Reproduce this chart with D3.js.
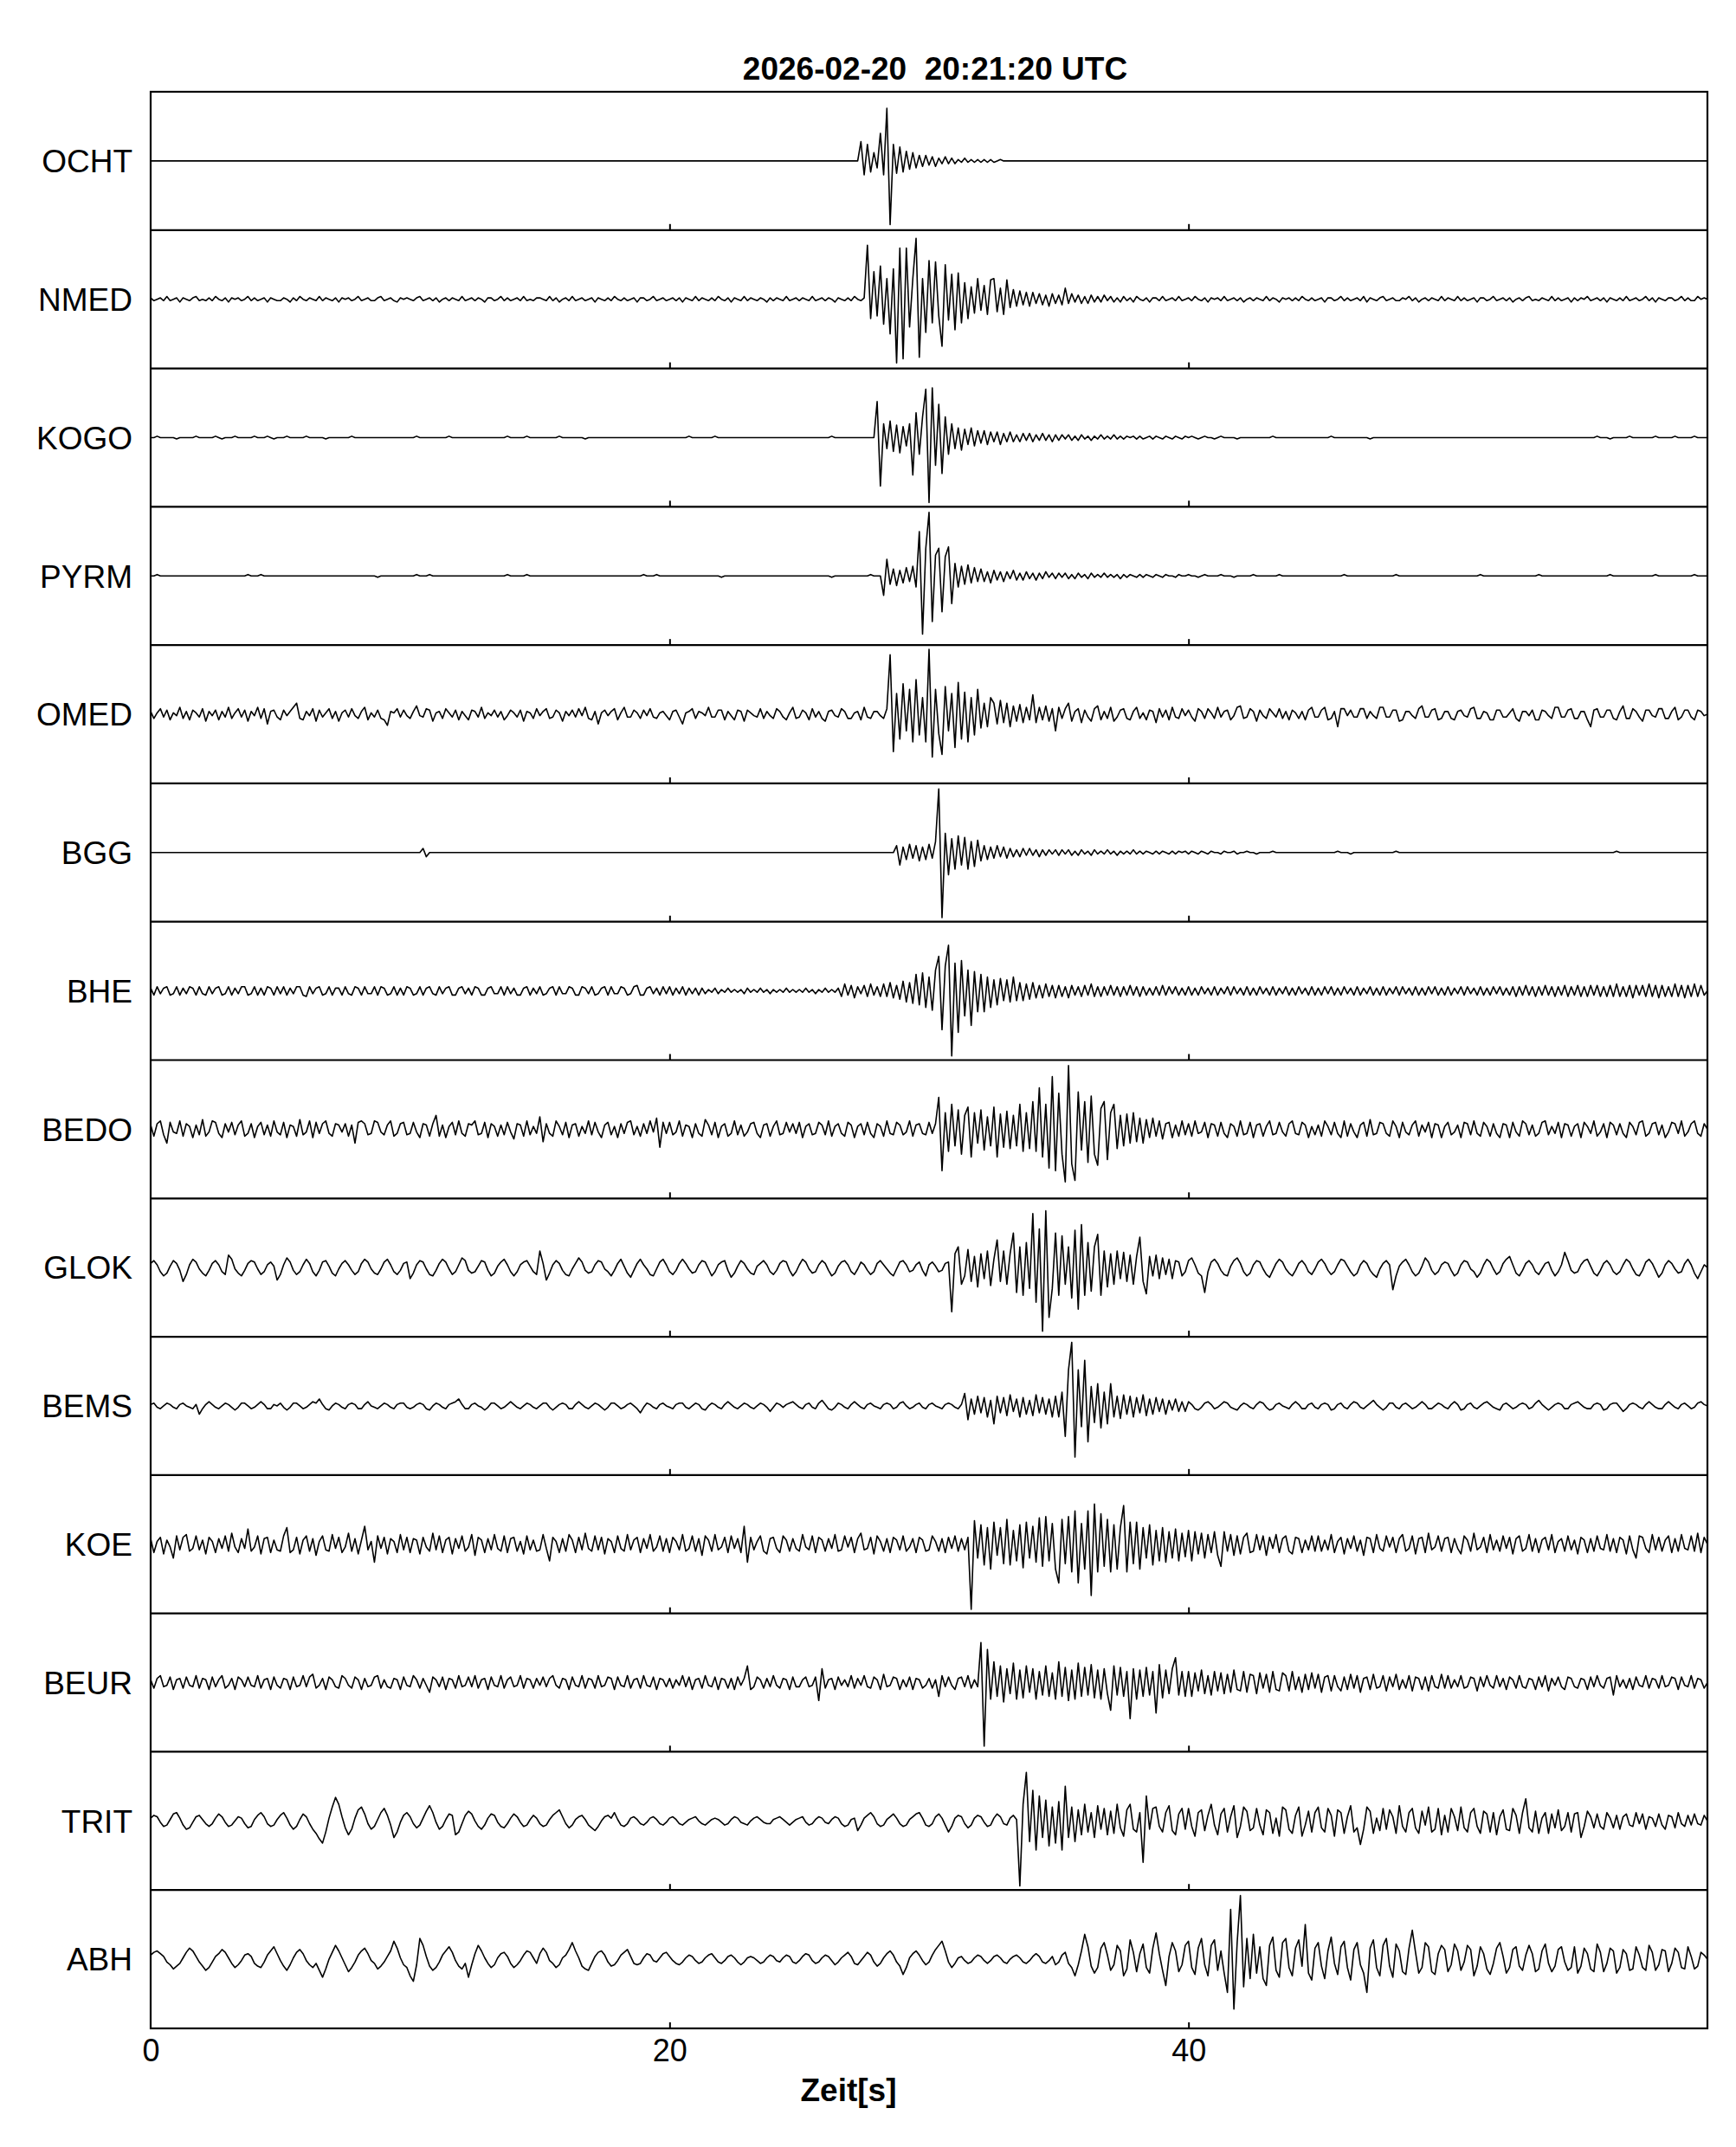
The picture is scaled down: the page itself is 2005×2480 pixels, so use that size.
<!DOCTYPE html>
<html>
<head>
<meta charset="utf-8">
<script src="https://cdn.jsdelivr.net/npm/d3@7"></script>
<style>
  body { margin: 0; background: #fff; }
  text { font-family: "Liberation Sans", Arial, Helvetica, sans-serif; fill: #000; }
</style>
</head>
<body>
<script>
// --- data (amplitudes, one sample every dt seconds, 40 samples per 5 s row) ---
const titleText = "2026-02-20  20:21:20 UTC";
const xLabel = "Zeit[s]";
const dt = 0.125;
const tMax = 60;
const xTickValues = [0, 20, 40];
const stations = ["OCHT", "NMED", "KOGO", "PYRM", "OMED", "BGG", "BHE", "BEDO", "GLOK", "BEMS", "KOE", "BEUR", "TRIT", "ABH"];

const OCHT = [
  0,0,0,0,0,0,0,0,0,0,0,0,0,0,0,0,0,0,0,0,0,0,0,0,0,0,0,0,0,0,0,0,0,0,0,0,0,0,0,0,
  0,0,0,0,0,0,0,0,0,0,0,0,0,0,0,0,0,0,0,0,0,0,0,0,0,0,0,0,0,0,0,0,0,0,0,0,0,0,0,0,
  0,0,0,0,0,0,0,0,0,0,0,0,0,0,0,0,0,0,0,0,0,0,0,0,0,0,0,0,0,0,0,0,0,0,0,0,0,0,0,0,
  0,0,0,0,0,0,0,0,0,0,0,0,0,0,0,0,0,0,0,0,0,0,0,0,0,0,0,0,0,0,0,0,0,0,0,0,0,0,0,0,
  0,0,0,0,0,0,0,0,0,0,0,0,0,0,0,0,0,0,0,0,0,0,0,0,0,0,0,0,0,0,0,0,0,0,0,0,0,0,0,0,
  0,0,0,0,0,0,0,0,0,0,0,0,0,0,0,0,0,0,0,14,-10,12,-8,6,-5,20,-10,38,-46,12,-9,10,-8,7,-6,6,-5,4,-4,4,
  -3,3,-4,2,-2,3,-2,2,-2,1,-1,2,-1,1,-1,1,-1,1,-1,1,-1,0,1,0,0,0,0,0,0,0,0,0,0,0,0,0,0,0,0,0,
  0,0,0,0,0,0,0,0,0,0,0,0,0,0,0,0,0,0,0,0,0,0,0,0,0,0,0,0,0,0,0,0,0,0,0,0,0,0,0,0,
  0,0,0,0,0,0,0,0,0,0,0,0,0,0,0,0,0,0,0,0,0,0,0,0,0,0,0,0,0,0,0,0,0,0,0,0,0,0,0,0,
  0,0,0,0,0,0,0,0,0,0,0,0,0,0,0,0,0,0,0,0,0,0,0,0,0,0,0,0,0,0,0,0,0,0,0,0,0,0,0,0,
  0,0,0,0,0,0,0,0,0,0,0,0,0,0,0,0,0,0,0,0,0,0,0,0,0,0,0,0,0,0,0,0,0,0,0,0,0,0,0,0,
  0,0,0,0,0,0,0,0,0,0,0,0,0,0,0,0,0,0,0,0,0,0,0,0,0,0,0,0,0,0,0,0,0,0,0,0,0,0,0,0,
  0
];
const NMED = [
  1,-1,0,1,-1,2,-1,0,1,-2,1,0,-1,1,2,-1,0,-1,1,-1,2,0,-1,1,-2,1,0,1,-1,0,2,-1,1,-1,0,1,-2,1,0,-1,
  -1,1,0,-2,1,-1,2,0,-1,1,0,-1,2,-1,1,0,-1,1,-2,1,0,1,-1,0,2,-1,0,1,-1,-1,1,2,-1,0,1,-1,-2,1,0,1,
  0,-1,1,2,-1,0,1,-1,1,-2,0,1,-1,1,0,-1,2,-1,0,1,-1,1,0,-2,1,1,-1,0,2,-1,1,-1,0,1,-1,2,-1,0,-1,1,
  1,0,-1,2,-1,1,-2,0,1,-1,2,-1,0,1,-1,0,1,-2,1,0,-1,1,-1,2,0,-1,1,-1,0,1,-2,1,1,-1,0,2,-1,0,1,-1,
  0,1,-1,1,-2,1,0,-1,2,-1,1,0,-1,1,-1,2,0,-1,1,-2,1,0,-1,2,-1,1,0,-1,1,0,-2,1,-1,1,0,-1,2,-1,0,1,
  -1,1,0,-1,2,-1,0,1,-1,1,0,-2,1,0,-1,1,-1,2,0,-1,1,39,-14,20,-12,24,-18,15,-25,22,-46,37,-43,37,-20,15,44,-42,15,-24,
  28,-17,27,-12,-34,25,-15,18,-22,19,-17,12,-14,9,-10,15,-8,10,-11,14,15,-9,8,-11,14,-6,7,-5,6,-4,5,-5,5,-3,4,-4,3,-5,4,-3,
  3,-4,8,-3,4,-2,3,-3,2,-3,3,-2,2,-2,3,-1,2,-2,1,-2,2,-1,1,-2,2,0,-1,1,-2,1,1,-1,2,-1,0,1,-1,2,-1,0,
  1,-1,2,0,-1,1,-2,1,0,1,-1,2,-1,0,1,-1,1,-2,0,1,-1,1,0,-1,2,-1,1,0,-2,1,0,1,-1,1,-1,2,0,-1,1,-1,
  0,1,-2,1,1,-1,0,2,-1,1,-1,0,1,-1,2,-2,1,0,-1,1,2,-1,0,1,-1,-1,1,0,2,-1,1,-2,0,1,-1,1,0,-1,2,-1,
  1,0,-1,2,-1,1,-1,0,1,-2,1,1,-1,0,2,-1,0,1,-1,1,-2,0,1,-1,1,2,-1,0,-1,1,0,-1,2,-1,1,-1,0,1,-2,1,
  -1,1,0,2,-1,0,1,-1,1,-2,1,0,-1,1,-1,2,-1,0,1,-1,0,2,-1,1,-2,1,0,-1,1,1,-1,0,2,-1,1,-1,-1,2,0,1,
  0
];
const KOGO = [
  0,0,1,0,0,0,0,0,-1,0,0,0,0,0,1,0,0,0,0,0,1,0,-1,0,0,0,1,0,0,0,0,0,1,0,0,0,1,0,-1,0,
  0,0,1,0,0,0,0,0,1,0,0,0,0,0,-1,0,0,0,0,0,0,0,1,0,0,0,0,0,0,0,0,0,0,0,0,0,0,0,0,0,
  0,0,1,0,0,0,0,0,0,0,0,0,1,0,0,0,0,0,0,0,0,0,0,0,0,0,0,0,0,0,1,0,0,0,0,0,1,0,0,0,
  0,0,0,0,0,0,1,0,0,0,0,0,0,0,-1,0,0,0,0,0,0,0,0,0,0,0,0,0,0,0,0,0,0,0,0,0,0,0,0,0,
  0,0,0,0,0,0,1,0,0,0,0,0,0,0,1,0,0,0,0,0,0,0,0,0,0,0,0,0,0,0,0,0,0,0,0,0,0,0,0,0,
  0,0,0,0,0,0,0,0,0,0,1,0,0,0,0,0,0,0,0,0,0,0,0,0,26,-35,10,-8,12,-10,9,-11,8,-6,10,-27,18,-12,15,35,
  -47,36,-20,24,-26,15,-12,10,-8,7,-9,6,-5,7,-6,5,-4,5,-5,4,-3,4,-5,3,-3,4,-3,2,-3,3,-2,3,-3,2,-2,3,-2,2,-3,2,
  -2,2,-1,2,-2,1,-2,2,-1,1,-2,1,-1,2,-1,1,-1,2,-1,1,-1,1,0,1,-1,1,-1,0,1,-1,1,0,-1,1,0,-1,1,0,-1,1,
  0,1,0,-1,0,1,0,0,-1,0,1,0,0,0,0,-1,0,0,0,0,0,0,0,0,0,0,1,0,0,0,0,0,0,0,0,0,0,0,0,0,
  0,0,0,0,1,0,0,0,0,0,0,0,0,0,0,0,-1,0,0,0,0,0,0,0,0,0,0,0,0,0,0,0,0,0,0,0,0,0,0,0,
  0,0,0,0,0,0,0,0,0,0,0,0,0,0,0,0,0,0,0,0,0,0,0,0,0,0,0,0,0,0,0,0,0,0,0,0,0,0,0,0,
  0,0,0,0,0,0,1,0,0,0,-1,0,0,0,0,0,1,0,0,0,0,0,0,0,1,0,0,0,0,0,1,0,0,0,0,0,1,0,0,0,
  0
];
const PYRM = [
  0,0,1,0,0,0,0,0,0,0,0,0,0,0,0,0,0,0,0,0,0,0,0,0,0,0,0,0,0,0,1,0,0,0,1,0,0,0,0,0,
  0,0,0,0,0,0,0,0,0,0,0,0,0,0,0,0,0,0,0,0,0,0,0,0,0,0,0,0,0,0,-1,0,0,0,0,0,0,0,0,0,
  0,0,1,0,0,0,1,0,0,0,0,0,0,0,0,0,0,0,0,0,0,0,0,0,0,0,0,0,0,0,1,0,0,0,0,0,1,0,0,0,
  0,0,0,0,0,0,0,0,0,0,0,0,0,0,0,0,0,0,0,0,0,0,0,0,0,0,0,0,0,0,0,0,1,0,0,0,1,0,0,0,
  0,0,0,0,0,0,0,0,0,0,0,0,0,0,0,0,-1,0,0,0,0,0,0,0,0,0,0,0,0,0,0,0,0,0,0,0,0,0,0,0,
  0,0,0,0,0,0,0,0,0,0,-1,0,0,0,0,0,0,0,0,0,0,0,1,0,0,0,-14,12,-6,5,-7,4,-5,6,-4,7,-8,32,-42,20,
  46,-33,15,20,-26,14,21,-20,9,-8,7,-6,8,-5,6,-4,5,-4,3,-5,4,-3,3,-4,3,-2,4,-3,2,-3,3,-2,2,-3,2,-2,3,-1,2,-2,
  2,-1,2,-2,1,-2,2,-1,1,-2,2,-1,1,-1,2,-1,1,-1,1,-2,1,-1,1,0,-1,1,-1,1,0,-1,1,0,-1,1,0,0,-1,1,0,0,
  1,0,0,-1,0,1,0,0,0,0,1,0,0,0,-1,0,0,0,0,0,1,0,0,0,0,0,0,0,1,0,0,0,0,0,0,0,0,0,0,0,
  0,0,0,0,0,0,0,0,1,0,0,0,0,0,0,0,0,0,0,0,0,0,0,0,1,0,0,0,0,0,0,0,0,0,0,0,0,0,0,0,
  0,0,0,0,0,0,0,0,0,0,1,0,0,0,0,0,0,0,0,0,0,0,0,0,0,0,0,0,1,0,0,0,0,0,0,0,0,0,0,0,
  0,0,0,0,0,0,0,0,0,0,1,0,0,0,0,0,0,0,0,0,0,0,0,0,1,0,0,0,0,0,0,0,0,0,0,0,1,0,0,0,
  0
];
const OMED = [
  2,-3,1,4,-2,3,-4,1,-1,5,-3,2,-4,3,1,-2,4,-5,2,-1,3,-4,2,-2,5,-3,1,4,-2,3,-5,2,-1,5,-3,4,-7,2,3,-2,
  -4,3,-1,2,5,8,-3,-4,2,-1,4,-5,3,-2,1,4,-3,2,-5,1,3,-2,4,-1,-3,2,5,-4,1,-2,3,-3,-4,-8,2,1,4,-2,3,-1,
  -3,2,6,-1,-2,4,3,-5,1,2,-3,4,1,-2,3,-4,2,-1,-4,3,2,-2,5,-3,1,-1,3,-2,2,-4,-1,3,1,-2,3,-5,2,1,-3,4,
  -1,2,4,-3,-2,3,1,-5,2,-1,3,-2,4,-1,5,-3,-4,2,-7,1,3,-1,2,4,-4,1,5,-2,-2,3,1,-3,3,-1,4,-2,-3,1,2,-1,
  -4,2,3,-2,-7,1,2,4,-3,2,1,-1,5,-2,-2,3,3,-4,2,-1,-4,3,2,-5,3,1,-1,-2,4,-3,2,-1,-3,4,2,-2,-4,1,5,-3,
  -2,3,1,-4,4,-2,2,-3,-5,2,3,-1,-2,4,2,-3,-3,1,2,-4,5,-2,-3,2,2,-1,-3,4,43,-27,15,-18,22,-12,18,-20,25,-15,12,-20,
  47,-31,18,-14,-29,20,-12,15,-24,23,-18,16,-20,12,-15,18,-10,8,-9,12,8,-7,10,-6,8,-9,6,-5,7,-6,5,-4,14,-6,5,-4,6,-5,4,-12,
  5,-3,4,8,-5,2,4,-6,3,-2,-5,4,6,-4,2,-3,5,-5,-2,3,4,-3,-4,2,5,-3,1,-4,3,2,-6,4,-2,3,-4,5,-2,-3,4,-1,
  3,-2,-5,4,2,-3,4,1,-3,5,-2,2,3,-4,-1,5,6,-3,-2,4,2,-5,3,-1,-3,4,1,-2,4,-3,2,-4,3,1,-3,2,-4,3,5,-2,
  -2,3,5,-4,-3,2,-9,4,4,-1,3,-2,-2,4,4,-3,2,-1,-3,5,5,-2,-2,3,3,-5,-4,2,2,-1,-3,4,6,-2,-2,3,4,-4,-3,2,
  2,-3,-4,2,3,-1,-2,4,5,-3,-3,2,1,-4,-4,3,3,-2,-2,1,4,-3,-5,2,2,-1,3,-4,-4,3,2,-1,-3,5,5,-2,-2,3,4,-3,
  -3,2,2,-4,-9,3,4,-2,-2,3,3,-3,-4,2,6,-3,-3,4,2,-2,-5,3,3,-1,-2,4,4,-3,-3,2,5,-4,-2,3,3,-2,-4,3,2,-1,
  0
];
const BGG = [
  0,0,0,0,0,0,0,0,0,0,0,0,0,0,0,0,0,0,0,0,0,0,0,0,0,0,0,0,0,0,0,0,0,0,0,0,0,0,0,0,
  0,0,0,0,0,0,0,0,0,0,0,0,0,0,0,0,0,0,0,0,0,0,0,0,0,0,0,0,0,0,0,0,0,0,0,0,0,0,0,0,
  0,0,0,0,3,-3,0,0,0,0,0,0,0,0,0,0,0,0,0,0,0,0,0,0,0,0,0,0,0,0,0,0,0,0,0,0,0,0,0,0,
  0,0,0,0,0,0,0,0,0,0,0,0,0,0,0,0,0,0,0,0,0,0,0,0,0,0,0,0,0,0,0,0,0,0,0,0,0,0,0,0,
  0,0,0,0,0,0,0,0,0,0,0,0,0,0,0,0,0,0,0,0,0,0,0,0,0,0,0,0,0,0,0,0,0,0,0,0,0,0,0,0,
  0,0,0,0,0,0,0,0,0,0,0,0,0,0,0,0,0,0,0,0,0,0,0,0,0,0,0,0,0,0,5,-9,4,-5,6,-4,5,-6,4,-5,
  6,-4,8,46,-47,14,-16,10,-12,12,-9,11,-12,8,-10,9,-6,5,-5,4,-4,5,-3,4,-4,3,-3,2,-3,3,-2,3,-2,2,-3,2,-2,2,-1,2,
  -2,2,-1,2,-2,1,-2,2,-1,1,-2,2,-1,1,-1,2,-1,1,-2,1,-1,1,-1,2,-1,1,-1,1,0,-1,1,-1,1,0,-1,1,-1,1,0,1,
  -1,1,0,-1,1,0,-1,1,0,0,-1,1,0,0,1,-1,0,0,1,0,0,-1,0,0,0,0,1,0,0,0,0,0,0,0,0,0,0,0,0,0,
  0,0,0,0,0,0,1,0,0,0,-1,0,0,0,0,0,0,0,0,0,0,0,0,0,1,0,0,0,0,0,0,0,0,0,0,0,0,0,0,0,
  0,0,0,0,0,0,0,0,0,0,0,0,0,0,0,0,0,0,0,0,0,0,0,0,0,0,0,0,0,0,0,0,0,0,0,0,0,0,0,0,
  0,0,0,0,0,0,0,0,0,0,0,0,1,0,0,0,0,0,0,0,0,0,0,0,0,0,0,0,0,0,0,0,0,0,0,0,0,0,0,0,
  0
];
const BHE = [
  2,-3,3,-2,2,3,-3,-2,3,-3,2,-2,3,2,-3,3,-2,-3,3,-2,2,3,-3,-2,3,-3,2,-2,3,3,-3,-2,3,-3,2,-3,3,2,-3,3,
  -2,3,-3,2,-2,3,3,-3,-4,3,-2,2,3,-3,-2,3,-3,2,2,-3,3,-2,-3,3,2,-3,3,-2,-2,3,-3,3,2,-3,-2,3,-3,2,-3,3,
  2,-3,-2,3,-3,2,3,-2,-3,3,-2,2,3,-3,-3,2,3,-2,2,-3,3,2,-3,-3,2,3,-2,-2,3,-3,3,-2,2,-3,-3,2,3,-3,2,-2,
  3,-3,-2,2,3,-3,3,-2,-2,3,2,-3,-3,3,2,-2,3,-3,-2,2,3,-3,3,-2,-2,3,2,-3,-2,3,4,-3,-3,2,3,-2,2,-3,3,-2,
  3,-3,2,-2,3,-3,2,-2,2,-3,2,-2,1,-1,2,-2,1,-1,2,-1,1,-1,1,-2,2,-1,1,-1,2,-1,1,-2,1,-1,1,-1,2,-1,1,-1,
  1,-1,2,-1,1,-2,1,-1,2,-1,1,-1,2,-4,5,-3,4,-5,3,-2,4,-4,5,-3,3,-4,5,-4,6,-5,4,-6,7,-8,6,-9,12,-10,13,-12,
  10,-14,15,25,-28,18,33,-47,20,-30,22,-18,15,-25,14,-15,12,-15,10,-12,8,-10,9,-7,8,-8,10,-7,6,-7,5,-6,6,-5,4,-5,5,-4,4,-5,
  4,-4,3,-5,4,-3,3,-4,4,-3,5,-4,3,-4,3,-3,4,-3,3,-4,3,-3,4,-3,3,-4,3,-3,2,-3,3,-3,4,-3,3,-2,3,-3,2,-3,
  3,-3,2,-3,3,-2,2,-3,3,-3,2,-2,3,-3,3,-2,2,-3,3,-3,2,-3,3,-2,2,-3,3,-3,2,-2,3,-3,2,-3,3,-2,2,-3,3,-3,
  2,-3,3,-2,3,-3,2,-3,3,-2,2,-3,3,-3,2,-2,3,-3,2,-3,3,-3,2,-2,3,-3,3,-2,2,-3,3,-3,2,-3,3,-2,3,-3,2,-3,
  3,-3,2,-2,3,-3,3,-2,2,-3,3,-3,2,-3,3,-2,3,-3,2,-3,3,-4,3,-3,4,-3,3,-4,3,-3,4,-3,3,-4,3,-3,4,-4,3,-3,
  4,-4,3,-4,4,-3,4,-4,3,-4,4,-4,5,-4,3,-4,4,-5,4,-3,4,-4,5,-4,4,-5,4,-4,3,-4,5,-4,4,-5,4,-4,5,-4,4,-3,
  0
];
const BEDO = [
  3,-5,4,6,-4,-10,5,-2,-3,6,-5,4,2,-6,3,-4,7,-5,-2,6,5,-3,-6,4,-2,5,-4,3,6,-5,-3,4,-6,2,5,-4,3,-5,6,-2,
  -4,5,-6,3,2,-5,7,-4,-2,6,-6,5,-3,4,6,-3,-5,4,3,-2,4,-5,3,-10,5,6,4,-4,-3,6,5,-2,-4,3,6,-5,-3,4,5,-4,
  -3,5,-2,-6,4,3,-5,4,10,-5,3,-6,2,5,-4,6,-3,-5,4,3,6,-4,-3,5,-6,4,2,-5,3,-4,5,-2,-7,4,3,-5,6,-4,2,-3,
  9,-9,4,-3,-5,6,2,-4,5,-6,3,4,-5,2,-3,6,-4,5,-2,-6,3,5,-4,2,-6,4,-3,5,6,-4,2,-5,4,-3,6,-2,8,-13,5,-3,
  5,-4,-2,6,-5,3,2,-6,4,-3,-5,7,3,-4,5,-6,2,4,-5,-3,6,-4,3,-5,-2,4,5,-3,-6,3,4,-5,2,6,-4,-3,5,-2,4,-3,
  5,-6,2,4,-4,-3,5,3,-4,6,-5,2,4,-3,-5,5,3,-6,2,4,-4,5,-3,-6,4,2,-5,6,-3,-4,5,3,-4,-2,6,-5,3,4,-3,-4,
  5,-3,4,23,-30,12,-16,18,-12,14,-18,10,16,-20,12,-10,14,-15,9,-12,16,-20,11,-13,13,-14,10,-12,18,-16,12,-14,20,-16,30,-20,18,-28,38,-30,
  26,-18,-38,46,-25,-37,27,-15,20,-24,24,-18,-26,15,20,-22,12,18,-14,10,-12,11,-10,12,-9,8,-10,7,-6,8,-5,6,-7,4,5,-6,3,-5,6,-4,
  4,-5,6,-3,-2,5,-6,4,3,-5,5,-3,-6,4,2,-5,6,-4,-3,5,-6,3,4,-5,2,6,-4,-3,5,-2,-5,4,6,-3,-4,5,3,-6,2,-4,
  3,-5,6,2,-4,5,-3,-6,6,-5,4,-2,-6,3,5,-5,7,-4,-3,5,4,-3,-5,6,2,-6,5,-2,-4,3,6,-5,3,-2,5,-6,4,3,-6,2,
  5,-4,-2,3,-6,5,4,-4,6,-3,-5,5,2,-5,4,-3,-6,4,3,-6,5,-2,-5,6,4,-4,3,-5,-3,5,6,-4,2,-3,5,-6,4,3,-5,2,
  4,-6,5,2,-3,6,-5,-2,4,-6,5,3,-4,4,-3,-6,5,2,-4,5,6,-5,-3,4,5,-4,3,-6,-2,5,4,-3,6,-5,-2,4,6,-3,-5,4,
  0
];
const GLOK = [
  3,5,2,-3,-6,-4,1,5,3,-2,-10,-5,2,6,4,-1,-4,-6,-2,3,5,2,-3,-5,9,6,-1,-4,-6,-2,3,5,4,-1,-5,-3,2,4,1,-9,
  -5,2,7,4,-2,-5,-3,2,6,3,-3,-6,-2,4,5,1,-4,-6,-1,3,5,2,-2,-5,-3,3,6,4,-1,-4,-5,-1,4,6,2,-3,-5,-2,3,4,
  -8,-4,2,5,4,-1,-5,-6,-2,3,6,4,-1,-5,-3,2,7,5,-2,-4,-3,1,5,4,-2,-6,-4,1,4,6,2,-3,-6,-3,2,4,5,1,-3,-5,
  12,3,-9,-4,2,5,3,-2,-5,-6,-1,3,7,4,-2,-4,-3,2,5,4,-1,-3,-6,-2,3,6,1,-4,-7,-2,3,6,2,-1,-5,-6,-1,4,6,2,
  -3,-5,-2,3,6,3,-1,-4,-3,2,5,4,-1,-6,-3,2,4,5,-2,-7,-4,1,5,3,-1,-4,-5,1,3,5,2,-3,-5,-2,3,5,4,-2,-6,-3,
  2,6,4,-1,-4,-3,2,5,3,-2,-6,-4,1,4,5,2,-3,-5,-1,4,2,-2,-5,-3,3,5,2,-1,-4,-6,-1,4,5,2,-3,-2,2,4,-2,-6,
  2,4,1,-3,-2,3,4,-32,10,15,-12,-6,13,-10,8,-14,10,-8,12,-13,6,20,-10,12,-12,10,25,-18,15,-20,18,-15,39,-25,28,-46,41,-36,-15,25,
  -20,23,-12,15,-22,27,-30,31,-20,18,-17,15,24,-20,12,-14,10,-12,12,-8,11,-10,9,-12,8,22,-10,-19,8,-6,9,-8,7,-5,6,-8,5,4,-6,-3,
  5,7,2,-4,-6,-18,-3,4,6,3,-2,-5,-6,1,5,7,3,-3,-6,-4,2,5,4,-1,-5,-7,-2,3,6,4,-1,-4,-6,-2,3,5,2,-3,-5,-1,
  4,6,3,-2,-5,-3,2,6,5,1,-3,-6,-4,2,5,3,-2,-5,-7,-1,3,5,2,-16,-6,1,4,6,2,-3,-6,-4,1,7,4,-2,-5,-3,2,4,
  3,-2,-6,-4,2,5,4,-1,-3,-7,-4,2,6,4,-1,-5,-3,3,6,8,2,-4,-6,-2,3,5,2,-3,-5,-1,3,4,-2,-6,-3,2,11,5,-2,-4,
  -3,2,5,6,1,-4,-6,-2,3,5,2,-3,-5,-3,2,6,4,-1,-5,-6,-2,4,6,3,-2,-7,-4,2,5,3,-1,-4,-3,3,6,2,-4,-8,-3,2,
  0
];
const BEMS = [
  1,2,-1,-2,0,2,1,-1,-2,1,2,0,-1,-2,1,-6,-2,1,3,1,-1,-2,0,2,1,-1,-3,-1,2,2,0,-2,-1,1,3,1,-2,-2,1,0,
  2,-1,-3,-1,2,2,0,-2,-1,1,3,2,5,1,-2,-3,0,2,1,-1,-2,1,2,1,-2,-2,1,3,0,-1,-2,0,2,1,-1,-2,1,2,2,-1,
  -2,-1,1,2,1,-2,-3,0,2,1,-1,-2,1,2,3,5,1,-2,-2,1,2,0,-1,-3,-1,2,2,0,-2,-1,1,3,1,-1,-2,0,2,1,-1,-2,
  0,2,2,-1,-3,-1,1,2,1,-2,-2,1,3,1,-1,-2,0,2,1,-1,-3,-1,2,2,0,-2,-1,1,2,0,-2,-5,-1,2,1,-1,-2,1,2,0,
  -1,-2,1,2,2,-1,-2,0,2,1,-2,-3,0,2,1,-1,-2,1,3,1,-1,-2,0,2,1,-1,-2,0,2,1,-1,-4,-1,2,1,-1,1,2,3,1,
  -1,-2,1,2,-1,-2,2,4,1,-2,-3,-1,2,1,-1,-2,1,3,1,-1,-2,1,2,0,-1,-2,1,2,1,-2,-1,2,3,0,-2,-1,1,2,-1,-2,
  1,2,0,-1,-2,1,2,1,-1,-2,1,9,-10,5,-6,7,-5,6,-8,4,-13,7,-5,6,-7,8,-4,5,-8,6,-6,4,-7,8,-5,6,-6,5,-8,7,
  -8,10,-22,26,46,-37,26,-15,33,-26,14,-12,16,-16,10,-13,16,-8,7,-9,8,-6,7,-8,6,-5,8,-7,5,-6,6,-4,5,-6,4,-3,5,-4,3,-4,
  3,1,-2,-3,-1,2,3,1,-2,-1,1,3,2,-1,-2,-3,0,2,1,-1,-2,1,3,2,-1,-3,-2,1,2,0,-1,-2,1,3,1,-2,-2,1,2,-1,
  -2,1,2,1,-3,-2,1,2,-1,-2,1,3,2,-1,-2,0,2,4,1,-1,-3,-1,2,2,-1,-2,1,2,0,-2,-1,1,3,1,-2,-2,0,2,1,-1,
  -2,1,3,1,-3,-2,1,2,-1,-2,0,2,3,1,-1,-2,-3,1,2,0,-2,-1,1,2,1,-2,-1,2,4,1,-1,-3,-1,1,2,1,-2,-2,1,2,
  3,1,-1,-2,-2,1,2,1,-3,-2,1,2,2,-1,-4,-2,1,2,1,-1,-2,1,3,1,-1,-2,-2,1,3,1,-1,-2,1,2,0,-2,-1,2,3,1,
  0
];
const KOE = [
  4,-6,2,5,-7,3,-2,-10,6,-4,5,7,-5,-3,6,-4,3,-7,5,2,-6,4,-3,6,-5,8,-2,-6,4,-3,11,-5,-2,6,-7,4,5,-6,3,-4,
  -5,6,12,-6,-4,5,-7,3,6,-5,4,-8,2,6,-4,-5,7,-3,5,-6,-2,8,-5,4,-7,3,13,-4,2,-13,6,-3,5,-7,4,2,-6,7,-4,5,
  -6,4,3,-7,5,-2,-5,8,-4,6,-6,3,5,-7,4,-3,6,-5,-2,7,-8,5,3,-6,4,-4,7,-3,-5,6,-6,4,5,-5,2,-7,6,-4,3,-5,
  -4,7,-3,-12,5,2,-6,4,-5,7,3,-6,5,-4,8,-3,-5,6,-4,5,-7,4,2,-6,6,-3,-5,7,-4,3,5,-6,4,-3,7,-5,-2,6,-5,4,
  -6,5,2,-4,7,-5,-3,6,-5,4,-8,6,3,-5,7,-4,-2,5,-6,6,-3,4,-6,13,-13,5,-4,2,6,-5,-7,4,5,-3,-6,6,3,-5,4,-3,
  -5,7,-2,-4,6,-6,5,3,-5,4,-3,7,-5,-4,6,-2,5,-6,4,8,-4,-3,5,-7,6,2,-5,4,-6,5,3,-4,6,-5,-2,4,-6,5,3,-5,
  -4,6,2,-5,4,-6,5,-3,6,-5,4,-4,5,-47,17,-10,14,-15,12,-18,16,-8,12,-14,18,-15,10,-12,14,-17,16,-10,13,-13,19,-16,20,-12,15,-18,
  -28,18,-14,20,-20,24,-28,15,-18,24,-37,29,-20,22,-16,18,-20,14,-18,12,28,-20,16,-14,16,-18,12,-10,14,-15,10,-12,12,-13,9,-10,11,-12,8,-9,
  10,-12,9,-7,8,-10,7,-6,9,-8,-16,9,-5,7,-8,6,-7,5,8,-6,-5,7,-4,6,-8,5,-3,7,-6,4,6,-5,-7,5,4,-6,3,-4,6,-5,
  6,-5,3,-4,7,-6,2,5,-7,4,-3,6,-5,3,-8,5,4,-6,7,-3,-5,6,-2,5,-6,4,7,-5,-3,6,-7,4,5,-6,8,-4,-2,6,-5,4,
  5,-6,4,-3,-7,6,3,-5,8,-4,-2,5,-6,7,-4,3,-5,6,-3,5,-7,4,6,-5,-3,7,-5,4,-6,3,5,-4,7,-6,2,4,-5,6,-4,3,
  -7,5,3,-6,4,-5,6,-3,-4,7,-5,4,-6,5,3,-7,6,-4,-10,6,5,-3,-6,7,-4,5,-5,3,6,-6,4,-5,7,-3,-4,6,-5,8,-6,5,
  0
];
const BEUR = [
  2,-4,3,5,-3,-2,4,-5,2,3,-4,4,-2,-3,5,-4,3,2,-5,4,-3,2,5,-4,-2,3,-5,4,2,-3,4,-2,-3,5,-4,2,3,-5,4,-2,
  -4,3,2,-5,4,-3,-2,5,-3,4,6,-4,-2,3,-5,4,2,-3,-4,5,3,-2,-4,4,2,-5,3,-3,-2,4,5,-4,2,-3,-4,3,2,-5,4,-2,
  -3,5,2,-4,3,-2,-7,4,2,-3,4,-5,3,2,-4,5,-3,-2,4,-3,5,-4,2,3,-5,4,-2,-3,5,-4,2,4,-3,-2,5,-4,3,2,-4,3,
  -2,4,-3,3,5,-2,-4,3,2,-5,4,-2,-3,5,-4,3,2,-4,5,-3,-2,4,3,-5,4,-2,-3,5,-4,2,3,-4,5,-2,-3,4,-5,3,2,-3,
  3,-4,2,-2,5,-3,4,-5,2,3,-4,5,-2,-3,4,-5,3,2,-4,3,-5,4,-2,3,12,-5,-3,4,2,-4,3,-3,5,-2,-4,3,2,-5,4,-3,
  -3,2,4,-3,-2,4,-13,10,-4,2,3,-5,4,-2,2,-3,5,-4,3,-2,5,-3,-4,4,2,-5,6,-3,-2,4,3,-5,2,-3,4,-5,3,2,-4,-2,
  3,-4,2,-10,5,-3,4,-2,-5,3,4,-3,5,-4,2,-3,29,-46,24,-12,15,-10,12,-14,10,-8,14,-12,9,-11,12,-7,10,-12,8,-9,12,-10,7,-12,
  15,-10,11,-13,9,-12,14,-10,11,-9,13,-11,9,-12,10,-8,-20,12,-9,11,-10,8,-26,10,-12,9,-10,11,-9,8,-22,13,-11,9,-8,10,18,-9,8,-10,
  8,-10,7,-6,9,-8,5,-9,8,-6,7,-8,6,-7,9,-5,-6,8,-7,6,5,-8,7,-4,6,-7,8,-5,-6,7,5,-6,8,-5,4,-7,6,-5,7,-4,
  6,-7,4,5,-6,5,-3,-6,4,-5,6,-4,5,-7,3,4,-5,6,-4,-3,5,-6,4,-3,6,-5,2,-4,5,-6,4,3,-5,4,-6,5,-3,-4,6,-4,
  5,-4,2,-3,5,-4,-3,4,3,-6,4,-3,5,-2,-4,5,-3,3,-5,4,2,-4,5,-3,-4,3,2,-5,4,-3,5,-6,3,-2,4,-3,-5,4,3,-3,
  -4,3,2,-5,4,-3,5,-2,-4,3,4,-9,5,-3,2,-4,3,-5,4,-2,-3,5,-4,3,2,-4,5,-3,-2,4,3,-5,4,-2,-3,5,-4,3,2,-4,
  0
];
const TRIT = [
  2,4,3,-1,-4,-3,1,5,6,2,-3,-6,-5,-1,3,4,1,-2,-4,-2,2,5,3,-1,-4,-3,0,3,2,-2,-5,-4,1,4,6,3,-2,-4,-3,1,
  4,6,2,-3,-6,-4,1,5,3,-2,-6,-9,-13,-16,-8,2,10,17,12,3,-5,-10,-6,2,8,10,5,-2,-6,-4,1,6,9,4,-3,-12,-8,-1,4,6,
  3,-2,-5,-3,2,7,11,6,-1,-6,-4,1,5,4,-10,-8,-2,4,7,5,0,-4,-6,-3,2,5,4,-1,-4,-5,-2,2,5,3,-1,-4,-3,1,4,2,
  -2,-4,-3,1,4,6,8,3,-2,-5,-3,1,3,4,1,-3,-5,-7,-4,0,3,4,2,6,1,-3,-4,-2,2,3,1,-2,-3,-1,2,3,1,-2,-3,-1,
  2,3,1,-2,-3,-1,1,2,3,0,-2,-3,-1,1,2,1,-1,-3,-2,1,3,2,-1,-2,-3,0,2,3,1,-1,-2,-2,1,2,3,1,-1,-3,-1,1,
  2,3,-1,-3,-2,1,3,2,-1,-2,1,3,2,-2,-4,-3,1,2,-7,-3,2,4,6,3,-2,-4,-3,1,3,5,2,-2,-4,-3,1,3,5,6,2,-3,
  -4,-2,3,5,2,-3,-8,-4,2,4,3,-2,-5,-3,2,4,3,-1,-4,-3,2,5,3,-2,-3,2,4,1,-47,12,35,-15,22,-21,18,-12,15,-18,10,-16,
  14,-21,25,-12,10,-15,8,-10,12,-8,6,-12,11,-6,9,-10,7,-9,12,-5,-11,8,12,-6,-8,6,-30,18,-6,9,10,-4,-8,6,11,-7,-10,5,9,-6,
  9,-4,-11,6,8,-7,4,12,-3,-10,5,9,-8,3,11,-12,-4,10,7,-7,-5,9,-3,-10,8,6,-9,2,-11,10,8,-6,-9,4,10,-11,-3,7,-8,6,
  10,-5,-8,9,4,-11,8,6,-9,3,11,-8,-5,-17,-6,10,7,-9,2,-7,9,-6,8,3,-9,11,-4,-8,6,9,-5,-9,7,-3,10,-8,-6,9,-10,4,
  -8,9,3,-7,10,-5,-8,6,9,-4,-9,7,5,-8,6,-10,3,8,-6,-7,9,4,-9,6,16,-5,-8,7,-9,2,6,-9,5,-5,8,-7,-4,6,-8,5,
  6,-12,-4,7,3,-5,5,-4,-6,6,2,-5,4,-6,3,5,-3,-4,6,-2,5,-6,3,2,-4,5,-3,-6,4,3,-5,6,-2,-4,4,-3,5,-2,-3,4,
  0
];
const ABH = [
  3,5,6,4,2,-2,-4,-7,-5,-3,1,5,8,6,2,-2,-5,-8,-6,-2,2,4,7,5,1,-3,-6,-4,-1,3,4,2,-3,-5,-6,-2,3,6,9,4,
  -1,-5,-8,-4,1,5,7,4,-1,-4,-6,-3,-8,-13,-7,0,5,10,6,1,-4,-9,-6,-2,3,6,8,4,-1,-3,-7,-5,-2,2,6,13,8,1,-4,-6,
  -12,-16,-4,15,10,2,-5,-8,-6,-2,3,6,9,5,-1,-5,-7,-3,-13,-4,4,10,6,1,-3,-6,-4,1,4,5,2,-3,-6,-4,-1,3,6,5,1,-3,
  4,8,5,-1,-3,-6,-4,1,3,7,12,6,1,-5,-7,-8,-3,2,5,6,3,-2,-5,-4,-1,3,5,7,2,-3,-4,-3,1,4,3,-1,-2,1,4,5,
  2,-1,-3,-4,-2,1,3,2,-1,-3,-2,1,3,4,1,-2,-3,-1,2,3,1,-2,-4,-2,1,2,1,-1,-3,-2,1,3,2,-1,-2,1,3,2,-2,-3,
  -1,2,4,3,-1,-3,-2,1,3,2,-1,-4,-2,1,3,5,2,-3,-4,-1,2,5,3,-2,-5,-3,1,4,6,3,-2,-5,-11,-6,1,4,6,3,-1,-4,
  -2,3,7,10,13,6,-2,-6,-3,1,2,-1,-3,-2,1,3,2,-1,-3,-1,2,3,1,-2,-3,0,2,3,1,-2,-3,-1,2,4,2,-2,-3,-1,2,-4,
  -2,3,5,-3,-6,-12,-4,6,18,9,-5,-10,-6,8,12,3,-8,-4,10,6,-12,-7,14,5,-9,4,11,-6,-10,8,19,4,-8,-19,2,12,6,-9,-4,10,
  13,-6,-11,8,15,-4,-12,10,14,-8,6,-10,-24,36,-36,12,46,-20,15,-14,18,-10,9,-14,-19,10,16,-8,-13,12,15,-6,-12,8,14,-5,25,-10,-15,8,
  12,-5,-14,6,16,-3,-11,9,13,-6,-15,7,12,-4,-10,-24,8,14,-6,-12,10,15,-5,-13,11,6,-9,-11,8,21,5,-10,-6,12,9,-9,-11,4,10,7,
  -9,-4,11,6,-8,-2,10,7,-12,-5,9,4,-7,-11,-3,8,12,2,-10,-6,7,9,-5,-8,3,10,4,-9,-7,6,11,-3,-9,-5,7,9,-2,-8,-6,9,
  -10,-5,8,4,-7,-9,11,5,-9,-3,8,6,-10,-6,7,4,-8,-7,9,3,-6,-8,10,5,-8,-4,7,6,-9,-3,8,5,-6,-7,9,2,-7,-5,5,3,
  0
];

const traces = [OCHT, NMED, KOGO, PYRM, OMED, BGG, BHE, BEDO, GLOK, BEMS, KOE, BEUR, TRIT, ABH];

// --- layout ---
const width = 2005, height = 2480;
const margin = { top: 106, right: 33, bottom: 137, left: 174 };

const svg = d3.select("body").append("svg")
  .attr("width", width)
  .attr("height", height);

const x = d3.scaleLinear().domain([0, tMax]).range([margin.left, width - margin.right]);
const band = d3.scaleBand().domain(stations).range([margin.top, height - margin.bottom]);
const y = d3.scaleLinear().domain([-50, 50]).range([band.bandwidth(), 0]);

const line = d3.line()
  .x((d, i) => x(i * dt))
  .y(d => y(d));

const panel = svg.selectAll("g.panel")
  .data(stations)
  .join("g")
  .attr("class", "panel")
  .attr("transform", d => "translate(0," + band(d) + ")");

// traces
panel.append("path")
  .attr("d", (d, i) => line(traces[i]))
  .attr("fill", "none")
  .attr("stroke", "#000")
  .attr("stroke-width", 1.6)
  .attr("stroke-linejoin", "round");

// small inward ticks at the bottom of every panel
panel.append("g")
  .attr("transform", "translate(0," + band.bandwidth() + ")")
  .call(d3.axisBottom(x).tickValues(xTickValues.filter(v => v > 0)).tickSize(-7).tickFormat(""))
  .call(g => g.select(".domain").remove())
  .selectAll("line")
  .attr("stroke", "#000")
  .attr("stroke-width", 2);

// panel separators
panel.filter((d, i) => i > 0).append("line")
  .attr("x1", x(0)).attr("x2", x(tMax))
  .attr("y1", 0).attr("y2", 0)
  .attr("stroke", "#000")
  .attr("stroke-width", 2.2);

// station names
panel.append("text")
  .attr("x", margin.left - 21)
  .attr("y", band.bandwidth() / 2)
  .attr("dy", "0.36em")
  .attr("text-anchor", "end")
  .style("font-size", "37px")
  .text(d => d);

// outer frame
svg.append("rect")
  .attr("x", x(0))
  .attr("y", margin.top)
  .attr("width", x(tMax) - x(0))
  .attr("height", height - margin.top - margin.bottom)
  .attr("fill", "none")
  .attr("stroke", "#000")
  .attr("stroke-width", 2.2);

// x axis labels
svg.append("g")
  .attr("transform", "translate(0," + (height - margin.bottom) + ")")
  .call(d3.axisBottom(x).tickValues(xTickValues).tickSize(0).tickPadding(12).tickFormat(d3.format("d")))
  .call(g => g.select(".domain").remove())
  .selectAll("text")
  .attr("font-family", null)
  .style("font-size", "36px");

svg.append("text")
  .attr("x", 980)
  .attr("y", 2427)
  .attr("text-anchor", "middle")
  .style("font-size", "37px")
  .style("font-weight", "bold")
  .text(xLabel);

// title
svg.append("text")
  .attr("x", 1080)
  .attr("y", 92)
  .attr("text-anchor", "middle")
  .style("font-size", "37px")
  .style("font-weight", "bold")
  .style("white-space", "pre")
  .text(titleText);
</script>
</body>
</html>
